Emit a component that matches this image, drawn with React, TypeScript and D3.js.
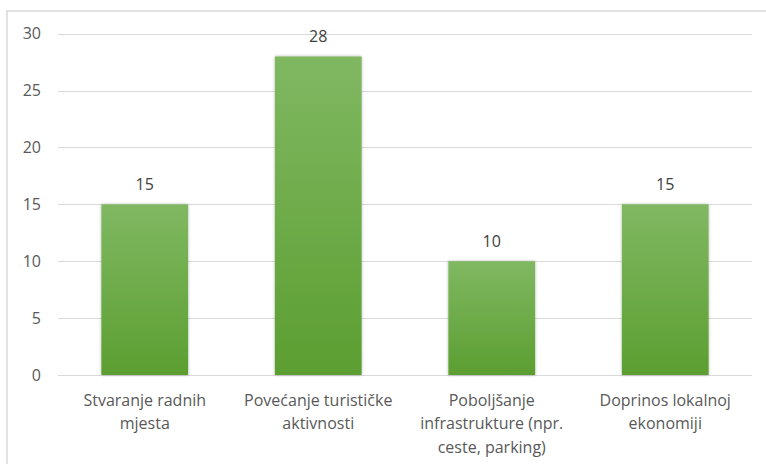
import React, { useEffect, useRef } from "react";
import * as d3 from "d3";

const categories: string[][] = [
  ["Stvaranje radnih", "mjesta"],
  ["Povećanje turističke", "aktivnosti"],
  ["Poboljšanje", "infrastrukture (npr.", "ceste, parking)"],
  ["Doprinos lokalnoj", "ekonomiji"],
];
const values: number[] = [15, 28, 10, 15];
const yTicks: number[] = [0, 5, 10, 15, 20, 25, 30];

const W = 766;
const H = 464;

export default function App() {
  const ref = useRef<SVGSVGElement>(null);
  useEffect(() => {
    const svg = d3.select(ref.current);
    svg.selectAll("*").remove();
    const left = 58, right = 752, top = 33.7, bottom = 375;
    const font = "'Open Sans', 'Liberation Sans', sans-serif";
    const x = d3.scaleBand<number>().domain(d3.range(values.length)).range([left, right]).paddingInner(0.5).paddingOuter(0.25);
    const y = d3.scaleLinear().domain([0, 30]).range([bottom, top]);

    const defs = svg.append("defs");
    const g = defs.append("linearGradient").attr("id", "barGrad").attr("x1", 0).attr("y1", 0).attr("x2", 0).attr("y2", 1);
    g.append("stop").attr("offset", "0%").attr("stop-color", "#80b862");
    g.append("stop").attr("offset", "100%").attr("stop-color", "#5c9e31");
    const f = defs.append("filter").attr("id", "shadow").attr("x", "-20%").attr("y", "-20%").attr("width", "140%").attr("height", "140%");
    f.append("feDropShadow").attr("dx", 0).attr("dy", 0).attr("stdDeviation", 1.5).attr("flood-color", "#000").attr("flood-opacity", 0.3);

    // frame
    svg.append("rect").attr("x", 7).attr("y", 11).attr("width", W).attr("height", H).attr("fill", "#fff").attr("stroke", "#d9d9d9").attr("stroke-width", 1.5);

    // gridlines
    svg.append("g").selectAll("line").data(yTicks).join("line")
      .attr("x1", left).attr("x2", right)
      .attr("y1", (d) => Math.round(y(d)) + 0.5).attr("y2", (d) => Math.round(y(d)) + 0.5)
      .attr("stroke", "#d9d9d9").attr("stroke-width", 1.2);

    svg.append("g").selectAll("text").data(yTicks).join("text")
      .attr("x", 41).attr("y", (d) => y(d)).attr("dy", "0.35em")
      .attr("text-anchor", "end").attr("font-family", font).attr("font-size", 16).attr("fill", "#595959")
      .text((d) => String(d));

    // bars
    svg.append("g").selectAll("rect").data(values).join("rect")
      .attr("x", (_, i) => x(i)!).attr("width", x.bandwidth())
      .attr("y", (d) => y(d)).attr("height", (d) => y(0) - y(d))
      .attr("fill", "url(#barGrad)").attr("filter", "url(#shadow)");

    // data labels
    svg.append("g").selectAll("text").data(values).join("text")
      .attr("x", (_, i) => x(i)! + x.bandwidth() / 2).attr("y", (d) => y(d) - 20).attr("dy", "0.35em")
      .attr("text-anchor", "middle").attr("font-family", font).attr("font-size", 16).attr("fill", "#404040")
      .text((d) => String(d));

    // category labels
    const cg = svg.append("g");
    categories.forEach((lines, i) => {
      const cx = x(i)! + x.bandwidth() / 2;
      const t = cg.append("text").attr("text-anchor", "middle").attr("font-family", font).attr("font-size", 16).attr("fill", "#595959");
      lines.forEach((ln, j) => {
        t.append("tspan").attr("x", cx).attr("y", 400 + j * 23.5).attr("dy", "0.35em").text(ln);
      });
    });
  }, []);
  return (
    <svg ref={ref} width={W} height={H} style={{ position: "absolute", left: 0, top: 0, display: "block" }} />
  );
}
